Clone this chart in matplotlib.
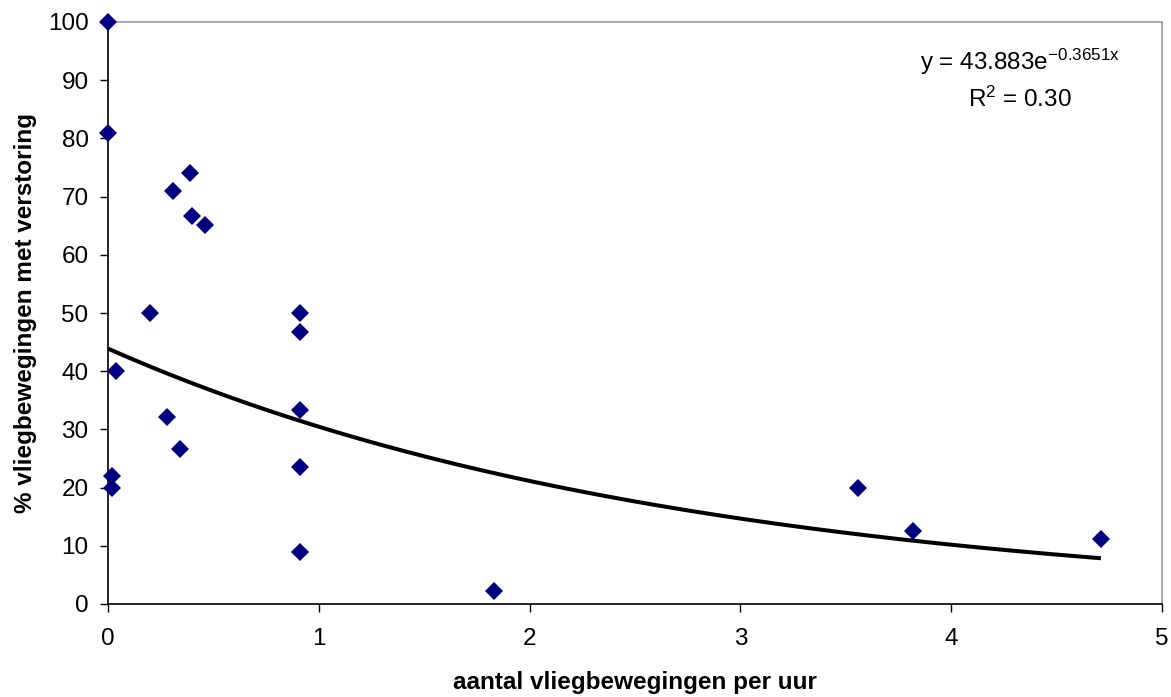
import numpy as np
import matplotlib
matplotlib.use("Agg")
import matplotlib.pyplot as plt

plt.rcParams['font.family'] = ['Liberation Sans', 'DejaVu Sans']
plt.rcParams['mathtext.fontset'] = 'custom'
plt.rcParams['mathtext.rm'] = 'Liberation Sans'
plt.rcParams['mathtext.it'] = 'Liberation Sans:italic'
plt.rcParams['mathtext.bf'] = 'Liberation Sans:bold'

# Observations: flight movements per hour vs. % of movements causing disturbance
flights_per_hour = [0.0, 0.0, 0.04, 0.02, 0.02, 0.20, 0.28, 0.31, 0.34, 0.39,
                    0.40, 0.46, 0.91, 0.91, 0.91, 0.91, 0.91, 1.83, 3.56, 3.82, 4.71]
pct_disturbed = [100.0, 81.0, 40.0, 22.0, 20.0, 50.0, 32.1, 71.0, 26.7, 74.1,
                 66.7, 65.2, 50.0, 46.7, 33.3, 23.5, 9.0, 2.3, 20.0, 12.5, 11.1]

# Exponential trend line
fit_a = 43.883
fit_b = -0.3651
fit_r2 = 0.30

x_ticks = [0, 1, 2, 3, 4, 5]
y_ticks = [0, 10, 20, 30, 40, 50, 60, 70, 80, 90, 100]

FS = 17.5

fig = plt.figure(figsize=(11.71, 6.97), dpi=100)
ax = fig.add_axes([108 / 1171, 1 - 604 / 697, (1162 - 108) / 1171, (604 - 22) / 697])

x_fit = np.linspace(0, max(flights_per_hour), 200)
ax.plot(x_fit, fit_a * np.exp(fit_b * x_fit), color='black', lw=2.9, zorder=2,
        solid_capstyle='butt')
ax.plot(flights_per_hour, pct_disturbed, linestyle='none', marker='D', ms=9.5,
        color='#000080', markeredgewidth=0, zorder=3, clip_on=False)

ax.set_xlim(0, 5)
ax.set_ylim(0, 100)
ax.set_xticks(x_ticks)
ax.set_yticks(y_ticks)
ax.tick_params(direction='out', length=6, width=1, labelsize=FS, colors='black')
ax.tick_params(axis='x', pad=11)
ax.tick_params(axis='y', pad=8)

for side in ('left', 'bottom'):
    ax.spines[side].set_color('black')
    ax.spines[side].set_linewidth(1.2)
for side in ('top', 'right'):
    ax.spines[side].set_color('#999999')
    ax.spines[side].set_linewidth(1.2)

ax.set_xlabel('aantal vliegbewegingen per uur', fontsize=FS, fontweight='bold',
              labelpad=15.5)
ax.set_ylabel('% vliegbewegingen met verstoring', fontsize=FS, fontweight='bold',
              labelpad=8)

fig.text(1020 / 1171, 1 - 62 / 697, r'y = 43.883e$^{\mathrm{-0.3651x}}$',
         ha='center', va='center', fontsize=FS)
fig.text(1020 / 1171, 1 - 99 / 697, r'R$^{\mathrm{2}}$ = 0.30',
         ha='center', va='center', fontsize=FS)

fig.savefig('out.png', dpi=100, facecolor='white')
